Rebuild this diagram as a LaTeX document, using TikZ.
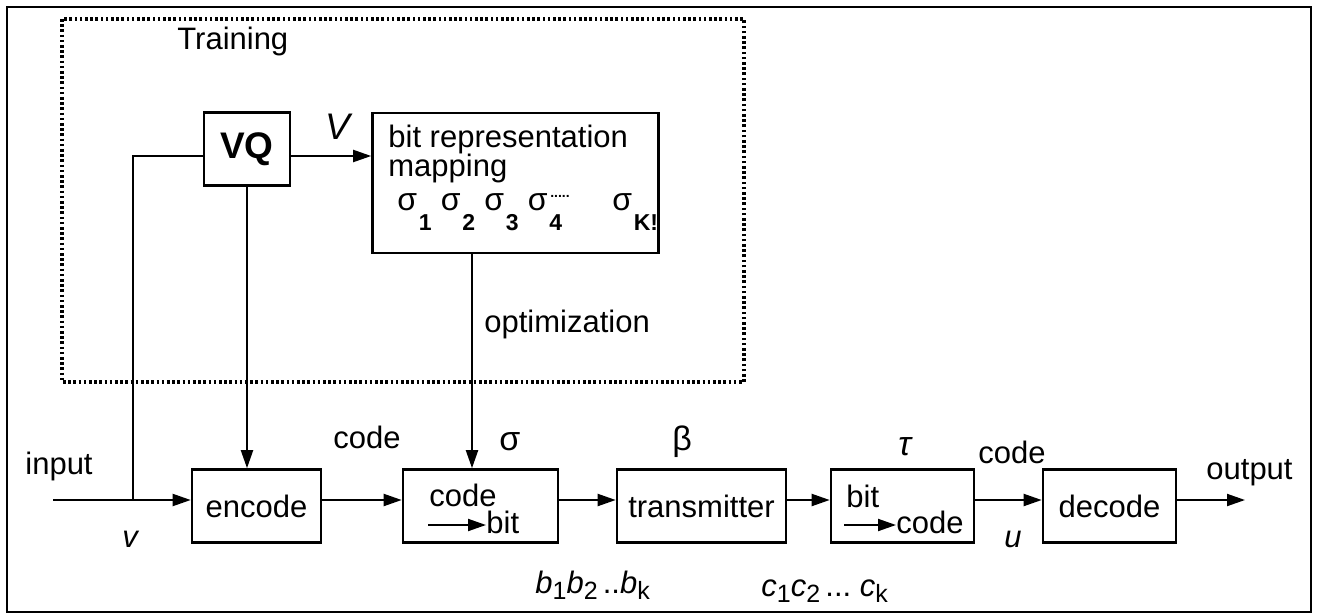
\documentclass[tikz,border=0pt]{standalone}
\usepackage{fontspec}
\setmainfont{Liberation Sans}
\usetikzlibrary{arrows.meta,positioning}

\newcommand{\lowsub}[1]{\hspace{0.8pt}\raisebox{-10pt}{\fontsize{11.5}{12}\selectfont\bfseries #1}}
\newcommand{\isub}[1]{\raisebox{-3pt}{\fontsize{12.5}{12}\selectfont #1}}

\tikzset{
  blk/.style={draw, line width=1.3pt, minimum height=36.5pt, inner sep=0pt},
  lbl/.style={inner sep=0pt, anchor=base west},
  ital/.style={lbl, font=\fontsize{15.5}{17}\selectfont\itshape},
  conn/.style={line width=1pt},
  arr/.style={conn, -{Triangle[length=9pt,width=6pt]}},
  greek/.style={lbl, font=\fontsize{17}{18}\selectfont},
  sig/.style={lbl, font=\fontsize{16}{18}\selectfont},
}

\begin{document}
\begin{tikzpicture}[x=0.5pt, y=-0.5pt, font=\fontsize{15.5}{17}\selectfont]
  \useasboundingbox (0,0) rectangle (1320,615);

  % outer frame and training area
  \draw[line width=1pt] (7,7) rectangle (1311,612);
  \draw[line width=2pt, dash pattern=on 1.3pt off 1.3pt] (62,19) rectangle (744,382);
  \node[lbl] (train) at (177,50) {Training};

  % training blocks
  \node[blk, minimum width=43pt] (vq) at (247,149) {\fontsize{18.5}{20}\selectfont\bfseries VQ};
  \node[blk, minimum width=143pt, minimum height=70pt] (map) at (515.5,183) {};
  \node[lbl] (bitrep) at (388,147) {bit representation};
  \node[lbl] (mapping) at (388,176) {mapping};
  \foreach \s [count=\i] in {1,2,3,4}
    \node[sig] (sig\i) at ({397+43.5*(\i-1)},210) {σ\lowsub{\s}};
  \node[inner sep=0pt] (dots) at (560,196) {\fontsize{7}{7}\selectfont\bfseries .....};
  \node[sig] (sigK) at (612,210) {σ\lowsub{K!}};
  \node[lbl, font=\fontsize{18.5}{20}\selectfont\itshape] (Vlab) at (325,140) {V};
  \node[lbl] (optim) at (484,332) {optimization};

  % main chain
  \coordinate (axis) at (0,500);
  \coordinate (vqline) at (0,156);
  \coordinate (optx) at (472,0);
  \coordinate (in) at (53,500);
  \coordinate (tap) at (133,500);
  \coordinate (out) at (1245,500);
  \node[blk, minimum width=64.5pt] (enc) at (256.5,506) {encode};
  \node[blk, minimum width=77.5pt] (c2b) at (480.5,506) {};
  \node[blk, minimum width=84.5pt] (tx) at (701.5,506) {transmitter};
  \node[blk, minimum width=71.5pt] (b2c) at (902.5,506) {};
  \node[blk, minimum width=66.5pt] (dec) at (1109.5,506) {decode};

  % texts inside the converters
  \node[lbl] (c2btop) at (429,506) {code};
  \node[lbl] (c2bbot) at (486,533) {bit};
  \node[lbl] (b2ctop) at (846,507) {bit};
  \node[lbl] (b2cbot) at (896,533) {code};
  \draw[arr] ([xshift=-29pt,yshift=4pt]c2bbot.base west) -- ([yshift=4pt]c2bbot.base west);
  \draw[arr] ([xshift=-26pt,yshift=4pt]b2cbot.base west) -- ([yshift=4pt]b2cbot.base west);

  % labels along the chain
  \node[lbl] (inlab) at (25,474) {input};
  \node[ital] (vlab) at (122,547) {v};
  \node[lbl] (code1) at (333,448) {code};
  \node[greek] (sigma) at (499,450) {σ};
  \node[greek] (beta) at (672,450) {β};
  \node[greek, font=\fontsize{17}{18}\selectfont\itshape] (tau) at (898,455) {τ};
  \node[lbl] (code2) at (978,463) {code};
  \node[lbl] (outlab) at (1206,479) {output};
  \node[ital] (ulab) at (1004,547) {u};
  \node[lbl] (blab) at (535,593) {\textit{b}\isub{1}\textit{b}\isub{2}\,..\textit{b}\isub{k}};
  \node[lbl] (clab) at (761,596) {\textit{c}\isub{1}\textit{c}\isub{2}\,...\ \textit{c}\isub{k}};

  % connectors
  \draw[arr] (in) -- (enc.west |- axis);
  \draw[conn] (tap) |- (vq.west |- vqline);
  \draw[arr] (vq.east |- vqline) -- (map.west |- vqline);
  \draw[arr] (vq.south) -- (vq.south |- enc.north);
  \draw[arr] (map.south -| optx) -- (c2b.north -| optx);
  \draw[arr] (enc.east |- axis) -- (c2b.west |- axis);
  \draw[arr] (c2b.east |- axis) -- (tx.west |- axis);
  \draw[arr] (tx.east |- axis) -- (b2c.west |- axis);
  \draw[arr] (b2c.east |- axis) -- (dec.west |- axis);
  \draw[arr] (dec.east |- axis) -- (out);
\end{tikzpicture}
\end{document}
